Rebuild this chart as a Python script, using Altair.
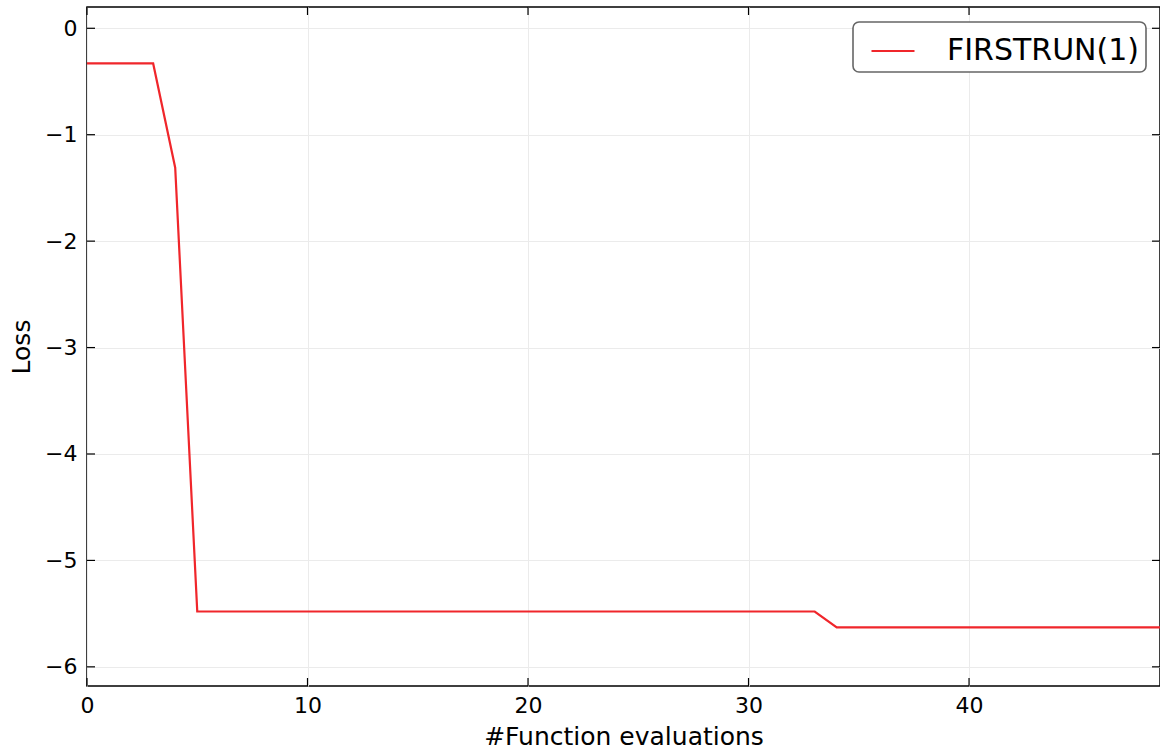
import altair as alt
import pandas as pd

# Breakpoints of the loss curve
evals = [0, 3, 4, 5, 33, 34, 49]
loss = [-0.33, -0.33, -1.31, -5.48, -5.48, -5.63, -5.63]
series = ["FIRSTRUN(1)"] * len(evals)

x_ticks = [0, 10, 20, 30, 40]
y_ticks = [0, -1, -2, -3, -4, -5, -6]

X_DOMAIN = [0, 48.66]
Y_DOMAIN = [-6.18, 0.2]
W, H = 1073, 679
FONT = "DejaVu Sans"
RED = "#f0262b"

df = pd.DataFrame({"evals": evals, "loss": loss, "run": series})
xt = pd.DataFrame({"v": x_ticks})
yt = pd.DataFrame({"v": y_ticks})

xscale = alt.Scale(domain=X_DOMAIN, nice=False, zero=False)
yscale = alt.Scale(domain=Y_DOMAIN, nice=False, zero=False)

line = alt.Chart(df).mark_line(strokeWidth=2.2, clip=True).encode(
    x=alt.X("evals:Q", scale=xscale,
            axis=alt.Axis(values=x_ticks, title="#Function evaluations", format="d")),
    y=alt.Y("loss:Q", scale=yscale,
            axis=alt.Axis(values=y_ticks, title="Loss", format="d")),
    color=alt.Color("run:N", scale=alt.Scale(domain=["FIRSTRUN(1)"], range=[RED]),
                    legend=alt.Legend(title=None, orient="none", legendX=766, legendY=15,
                                      symbolType="stroke", symbolStrokeWidth=2,
                                      symbolSize=1850, symbolOffset=11,
                                      labelFontSize=30, labelFont=FONT, labelLimit=0,
                                      labelColor="#000", labelOffset=31,
                                      padding=6, strokeColor="#666",
                                      cornerRadius=6, fillColor="white")),
)

tick_len = 8
xb = alt.Chart(xt).mark_rule(color="black", strokeWidth=1.2).encode(
    x=alt.X("v:Q", scale=xscale), y=alt.value(H), y2=alt.value(H - tick_len))
xtp = alt.Chart(xt).mark_rule(color="black", strokeWidth=1.2).encode(
    x=alt.X("v:Q", scale=xscale), y=alt.value(0), y2=alt.value(tick_len))
yl = alt.Chart(yt).mark_rule(color="black", strokeWidth=1.2).encode(
    y=alt.Y("v:Q", scale=yscale), x=alt.value(0), x2=alt.value(tick_len))
yr = alt.Chart(yt).mark_rule(color="black", strokeWidth=1.2).encode(
    y=alt.Y("v:Q", scale=yscale), x=alt.value(W - tick_len), x2=alt.value(W))

chart = alt.layer(xb, xtp, yl, yr, line).properties(
    width=W, height=H,
    background="white",
    autosize=alt.AutoSizeParams(type="none"),
    padding={"left": 87, "top": 7, "right": 0, "bottom": 66},
).configure_view(
    stroke="black", strokeWidth=1.5
).configure_legend(
    strokeWidth=1.6
).configure_axis(
    grid=True, gridColor="#ebebeb", gridWidth=1,
    domain=False, ticks=False, labelFlush=False,
    labelFont=FONT, labelFontSize=22, labelColor="#000",
    titleFont=FONT, titleFontSize=25, titleColor="#000", titleFontWeight="normal",
).configure_axisX(
    labelPadding=9, titlePadding=8,
).configure_axisY(
    labelPadding=10, titlePadding=10,
)

chart.save("out.html", embed_options={"renderer": "svg", "actions": False})
